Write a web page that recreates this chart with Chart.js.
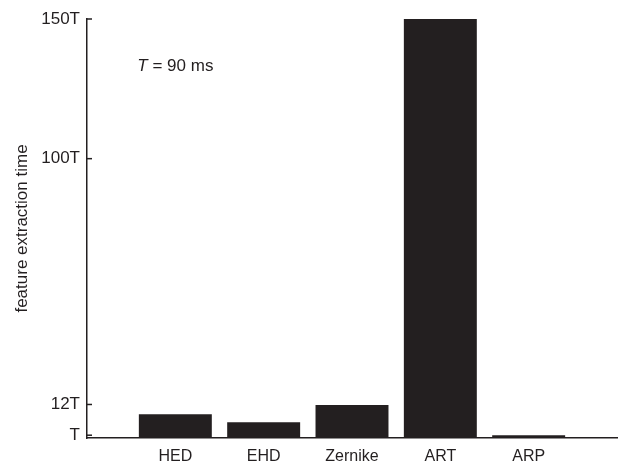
<!DOCTYPE html>
<html lang="en">

<head>
    <meta charset="UTF-8" />
    <title>Feature extraction time</title>
    <script src="https://cdn.jsdelivr.net/npm/chart.js"></script>
    <style>
        html, body {
            margin: 0;
            padding: 0;
            background: #ffffff;
        }

        #wrap {
            width: 618px;
            height: 464px;
        }
    </style>
</head>

<body>
    <div id="wrap"><canvas id="timeChart"></canvas></div>

    <script>
        // data (units of T = 90 ms)
        const categories = ['HED', 'EHD', 'Zernike', 'ART', 'ARP'];
        const extractionTime = [8.5, 5.6, 11.8, 150, 1];
        const yTickValues = [1, 12, 100, 150];
        const yTickLabels = ['T', '12T', '100T', '150T'];

        const ink = '#231f20';
        const font = "'Liberation Sans', Arial, sans-serif";

        // MATLAB style ticks pointing into the plot + the T = 90 ms note
        const extras = {
            id: 'extras',
            afterDatasetsDraw(chart) {
                const { ctx, scales: { x, y } } = chart;
                ctx.save();
                ctx.strokeStyle = ink;
                ctx.lineWidth = 1.5;
                yTickValues.forEach(v => {
                    const py = y.getPixelForValue(v);
                    ctx.beginPath();
                    ctx.moveTo(x.left, py);
                    ctx.lineTo(x.left + 5, py);
                    ctx.stroke();
                });

                // note
                const nx = x.getPixelForValue(0.57);
                const ny = y.getPixelForValue(133);
                ctx.fillStyle = ink;
                ctx.textBaseline = 'middle';
                ctx.textAlign = 'left';
                ctx.font = 'italic 17px ' + font;
                ctx.fillText('T', nx, ny);
                const w = ctx.measureText('T').width;
                ctx.font = '17px ' + font;
                ctx.fillText(' = 90 ms', nx + w, ny);
                ctx.restore();
            }
        };

        const ctx = document.getElementById('timeChart').getContext('2d');
        new Chart(ctx, {
            type: 'bar',
            data: {
                datasets: [{
                    label: 'feature extraction time',
                    data: categories.map((c, i) => ({ x: i + 1, y: extractionTime[i] })),
                    backgroundColor: ink,
                    borderWidth: 0,
                    categoryPercentage: 1,
                    barPercentage: 0.826
                }]
            },
            options: {
                responsive: true,
                maintainAspectRatio: false,
                animation: false,
                layout: { padding: { top: 19, right: 1, left: 0, bottom: 0 } },
                plugins: {
                    legend: { display: false },
                    tooltip: { enabled: false }
                },
                scales: {
                    x: {
                        type: 'linear',
                        offset: false,
                        min: 0,
                        max: 6,
                        afterBuildTicks: s => { s.ticks = categories.map((c, i) => ({ value: i + 1 })); },
                        afterFit: s => { s.height = 26; },
                        grid: { drawOnChartArea: false, drawTicks: false, offset: false },
                        border: { color: ink, width: 1.5 },
                        ticks: {
                            padding: 9,
                            color: ink,
                            font: { family: font, size: 16 },
                            maxRotation: 0,
                            autoSkip: false,
                            callback: v => categories[v - 1]
                        }
                    },
                    y: {
                        type: 'linear',
                        min: 0,
                        max: 150,
                        afterBuildTicks: s => { s.ticks = yTickValues.map(v => ({ value: v })); },
                        afterFit: s => { s.width = 87; },
                        grid: { drawOnChartArea: false, drawTicks: false },
                        border: { color: ink, width: 1.5 },
                        title: {
                            display: true,
                            text: 'feature extraction time',
                            color: ink,
                            padding: { top: 12, bottom: 0 },
                            font: { family: font, size: 17 }
                        },
                        ticks: {
                            padding: 7,
                            color: ink,
                            font: { family: font, size: 17 },
                            autoSkip: false,
                            callback: v => yTickLabels[yTickValues.indexOf(v)]
                        }
                    }
                }
            },
            plugins: [extras]
        });
    </script>
</body>

</html>
